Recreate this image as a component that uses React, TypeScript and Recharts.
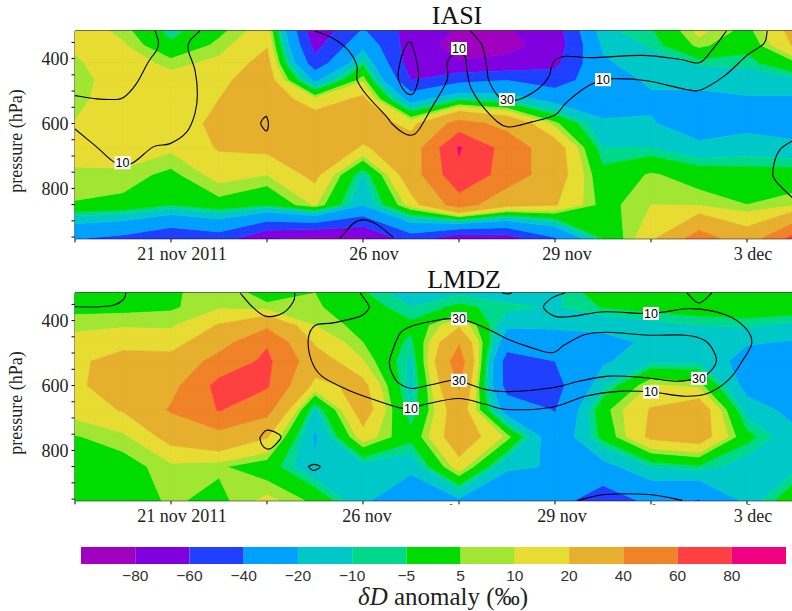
import React from 'react';
import { ScatterChart, Scatter, XAxis, YAxis, ReferenceLine, BarChart, Bar } from 'recharts';

// ---- shared scales -------------------------------------------------------
const pressureLevels = [315, 359, 415, 467, 525, 600, 675, 758, 850, 954];
const pressureTicks = [350, 400, 450, 500, 550, 600, 650, 700, 750, 800, 850, 900, 950];
const pressureLabels = [400, 600, 800];
const timeTicks = [0, 2, 4, 6, 8, 10, 12, 14];
const timeLabels: Record<number, string> = { 2: '21 nov 2011', 6: '26 nov', 10: '29 nov', 14: '3 dec' };
const thresholds = [-80, -60, -40, -20, -10, -5, 5, 10, 20, 40, 60, 80];
const thresholdLabels = ['\u221280', '\u221260', '\u221240', '\u221220', '\u221210', '\u22125', '5', '10', '20', '40', '60', '80'];
const bandColors = ['#a000c0', '#8000e0', '#2040ff', '#00a0ff', '#00c8c8', '#00d88c', '#00dc00', '#a0e632', '#e6dc32', '#e6af2d', '#f08228', '#ff4040', '#f00082'];

// ---- anomaly fields: one row per time step, one value per pressure level --
const iasiField = [
  [15, 11, 9, 7.2, 7.8, 10.3, 15, 8, 4.5, -39],
  [8, 11, 14, 14, 15, 17, 16, 8, 3, -45],
  [-8, -3, 8, 13, 15, 17, 11.5, 3, -4.5, -57],
  [3, 7, 12, 17, 20, 21.5, 21, 13, 2, -50],
  [15, 19, 25, 28, 30, 32, 23, 10, -3.5, -78],
  [-75, -67, -52, -23, 12, 30, 33, 23.5, 11, -85],
  [-38, -25, -7, 9, 23, 28, 18.5, -11, -19, -82],
  [-68, -70, -70, -60, -27, 16, 28, 30, 14, -50],
  [-82, -87, -78, -45, -8, 48, 82, 75, 50, -75],
  [-82, -85, -75, -40, -12, 34, 52, 52, 25, -70],
  [-70, -72, -65, -50, -26, 7, 28, 28, 21, -42],
  [-12, -18, -22, -27, -28, -18, -10, -2, 2, -4],
  [-6, -9, -14, -18, -22, -19, -10, 6, 10, 17],
  [12, 7, -9, -16, -24, -27, -17, 1, 9, 50],
  [2, -2, -8, -16, -21, -24, -14, -1, 5, 28],
  [25, 22, 3, -12, -22, -28, -16, -1, 9, 68],
];
const lmdzField = [
  [0, 3, 8, 13, 18, 18, 13, 4.5, 0, 0],
  [2, 3, 9, 17, 24, 26, 21, 8, 2, 1],
  [4, 4, 9, 14, 26, 34, 42, 25, 8, 6],
  [8, 9, 21, 32, 47, 66, 61, 33, 6, 3],
  [3, 6, 36, 58, 64, 62, 47, 21, 0, 12],
  [5, 6, 10, 18, 28, 16, -12, -22, -18, 3],
  [-4, 0, 2, 5, 10.5, 24, 28, 15, -14, -18],
  [-15, -10, -3, -7, -12, -14, -10, -2, -17, -30],
  [-11, -3, 18, 38, 52, 42, 30, 30, 15, -22],
  [-15, -8, -18, -30, -50, -48, -28, 8, -18, -33],
  [-12, -11, -17, -30, -40, -47, -41, -32, -21, -32],
  [0, -4.5, -17, -24, -22, -12, 2, -2, -25, -52],
  [3, -2, -13, -18, -12, 11, 21, 23, -10, -35],
  [0, 0, -10, -15, -12, 8, 30, 28, -6, -41],
  [0, 1, -9, -19, -25, -25, -14, -2, -15, -16],
  [2, 1, -13, -21, -28, -28, -24, -17, -12, 3],
];

// ---- black contour lines as [time step, pressure] -------------------------
const iasiContours: number[][][] = [
  [[0, 514], [0.45, 524], [0.8, 526], [1.01, 520], [1.28, 477], [1.53, 410], [1.7, 374], [1.74, 349], [1.67, 315]],
  [[0, 617], [0.45, 672], [0.83, 720], [1.18, 723], [1.63, 672], [1.98, 662], [2.33, 626], [2.5, 569], [2.55, 508], [2.5, 436], [2.36, 374], [2.4, 344], [2.6, 315]],
  [[3.99, 577], [4.03, 600], [3.99, 623], [3.89, 608], [3.87, 598], [3.92, 585], [3.99, 577]],
  [[5, 315], [5.38, 338], [5.69, 374], [5.87, 421], [5.88, 467], [6.08, 513], [6.49, 579], [6.6, 600], [6.81, 626], [7, 636], [7.16, 620], [7.44, 549], [7.75, 467], [7.75, 415], [7.85, 390], [7.99, 385], [8.13, 395], [8.17, 441], [8.27, 497], [8.62, 569], [9, 610], [9.52, 595], [10, 574], [10.22, 538], [10.56, 497], [10.84, 474], [11.19, 462], [11.95, 469], [12.72, 495], [13.06, 495], [13.55, 451], [14, 390], [14.35, 354], [14.42, 315]],
  [[8.24, 315], [8.48, 359], [8.58, 426], [8.62, 467], [8.83, 518], [9, 526], [9.25, 526], [9.66, 492], [9.87, 456], [9.97, 410], [10.22, 393], [10.77, 397], [11.81, 390], [12.58, 402], [13, 413], [13.27, 374], [13.57, 315]],
  [[7, 349], [7.09, 390], [7.16, 451], [7.09, 497], [7, 511], [6.85, 497], [6.73, 456], [6.81, 390], [6.92, 354], [7, 349]],
  [[15, 649], [14.68, 682], [14.54, 744], [14.61, 779], [15, 836]],
  [[5.52, 954], [5.8, 908], [6.01, 897], [6.28, 910], [6.63, 951]],
];
const lmdzContours: number[][][] = [
  [[0, 357], [0.45, 358], [0.8, 353], [1.01, 335], [1.06, 315]],
  [[3.44, 315], [3.72, 361], [3.99, 387], [4.34, 376], [4.55, 341], [4.58, 315]],
  [[5.94, 315], [6.11, 351], [6.11, 366], [5.94, 387], [5.38, 407], [5, 415], [4.86, 458], [4.93, 525], [5.14, 571], [5.66, 612], [6.22, 643], [6.77, 669], [7, 671], [7.3, 658], [7.99, 640], [8.55, 658], [9, 674], [9.94, 667], [10.63, 633], [11.33, 618], [12, 620], [12.72, 633], [13.2, 623], [13.62, 582], [13.9, 525], [14.1, 469], [13.97, 423], [13.55, 382], [12.85, 363], [12, 378], [11.05, 373], [10.35, 387], [10, 387], [9.76, 359], [9.94, 330], [10.21, 315]],
  [[13, 578], [13.13, 571], [13.34, 535], [13.34, 505], [13.13, 462], [12.72, 445], [11.95, 445], [11.12, 436], [10.63, 443], [10.21, 474], [9.94, 499], [9.52, 484], [9.03, 458], [8.55, 423], [7.99, 394], [7.44, 402], [7.02, 417], [6.78, 438], [6.6, 499], [6.55, 530], [6.6, 561], [6.74, 592], [7.02, 609], [7.37, 599], [7.85, 584], [7.99, 584], [8.55, 612], [9.03, 619], [9.94, 607], [10.5, 587], [11.12, 571], [11.88, 576], [12.51, 587], [13, 578]],
  [[3.85, 761], [3.99, 738], [4.2, 746], [4.29, 761], [4.1, 792], [3.99, 795], [3.89, 782], [3.85, 761]],
  [[4.86, 850], [4.97, 843], [5.11, 850], [4.97, 862], [4.86, 850]],
  [[12.75, 315], [13, 346], [13.27, 315]],
  [[10.49, 954], [11.05, 936], [11.95, 936], [12.65, 954]],
  [[8.9, 315], [9.02, 318], [9.1, 315]],
];
const iasiLabels = [
  { t: 0.99, p: 721, text: '10' },
  { t: 8, p: 369, text: '10' },
  { t: 11, p: 465, text: '10' },
  { t: 9, p: 526, text: '30' },
];
const lmdzLabels = [
  { t: 7, p: 671, text: '10' },
  { t: 12, p: 620, text: '10' },
  { t: 12, p: 378, text: '10' },
  { t: 8, p: 394, text: '30' },
  { t: 8, p: 584, text: '30' },
  { t: 13, p: 578, text: '30' },
];

// ---- filled bands: each grid cell clipped to each colour interval ---------
type V = { t: number; p: number; v: number };
function clip(poly: V[], level: number, above: boolean): V[] {
  const out: V[] = [];
  const inside = (q: V) => (above ? q.v >= level : q.v <= level);
  for (let k = 0; k < poly.length; k++) {
    const a = poly[k];
    const b = poly[(k + 1) % poly.length];
    if (inside(a)) out.push(a);
    if (inside(a) !== inside(b)) {
      const f = (level - a.v) / (b.v - a.v);
      out.push({ t: a.t + f * (b.t - a.t), p: a.p + f * (b.p - a.p), v: level });
    }
  }
  return out;
}
function bandSeries(field: number[][]) {
  return bandColors.map((color, band) => {
    const lo = band === 0 ? -Infinity : thresholds[band - 1];
    const hi = band === thresholds.length ? Infinity : thresholds[band];
    const data: { t: number; p: number }[] = [];
    const sizes: number[] = [];
    for (let c = 0; c < field.length - 1; c++) {
      for (let r = 0; r < pressureLevels.length - 1; r++) {
        let poly: V[] = [
          { t: c, p: pressureLevels[r], v: field[c][r] },
          { t: c + 1, p: pressureLevels[r], v: field[c + 1][r] },
          { t: c + 1, p: pressureLevels[r + 1], v: field[c + 1][r + 1] },
          { t: c, p: pressureLevels[r + 1], v: field[c][r + 1] },
        ];
        poly = clip(poly, lo, true);
        if (poly.length) poly = clip(poly, hi, false);
        if (poly.length >= 3) {
          sizes.push(poly.length);
          poly.forEach((q) => data.push({ t: q.t, p: q.p }));
        }
      }
    }
    return { color, data, sizes };
  });
}

const NoDot = () => null;

function polygonLine(sizes: number[], color: string) {
  return (props: any) => {
    const pts = props.points as { x: number; y: number }[];
    let d = '';
    let at = 0;
    sizes.forEach((n) => {
      const part = pts.slice(at, at + n);
      at += n;
      d += 'M' + part.map((q) => q.x.toFixed(2) + ',' + q.y.toFixed(2)).join('L') + 'Z';
    });
    return <path d={d} fill={color} stroke={color} strokeWidth={0.6} strokeLinejoin="round" />;
  };
}

function smoothLine(props: any) {
  const pts = props.points as { x: number; y: number }[];
  let d = `M${pts[0].x},${pts[0].y}`;
  for (let k = 0; k < pts.length - 1; k++) {
    const p0 = pts[Math.max(k - 1, 0)];
    const p1 = pts[k];
    const p2 = pts[k + 1];
    const p3 = pts[Math.min(k + 2, pts.length - 1)];
    d += `C${p1.x + (p2.x - p0.x) / 6},${p1.y + (p2.y - p0.y) / 6} ${p2.x - (p3.x - p1.x) / 6},${p2.y - (p3.y - p1.y) / 6} ${p2.x},${p2.y}`;
  }
  return <path d={d} fill="none" stroke="#000" strokeWidth={1.1} />;
}

function ContourLabel(props: any) {
  const { cx, cy, payload } = props;
  return (
    <g>
      <rect x={cx - 8} y={cy - 6.5} width={16} height={13} fill="#fff" />
      <text x={cx} y={cy + 4.5} textAnchor="middle" fontSize={12.5} fontFamily="'Liberation Sans', sans-serif" fill="#000">
        {payload.text}
      </text>
    </g>
  );
}

const serif = "'Liberation Serif', serif";

type PanelProps = {
  top: number;
  field: number[][];
  contours: number[][][];
  labels: { t: number; p: number; text: string }[];
  labelShift: Record<number, number>;
  labelDrop: number;
  marks: Record<number, number>;
  seams: { p: number; color: string }[];
};

function Panel({ top, field, contours, labels, labelShift, labelDrop, marks, seams }: PanelProps) {
  const bands = bandSeries(field);
  const TimeTick = (props: any) => {
    const { x, y, payload } = props;
    const v = payload.value as number;
    return (
      <g>
        {timeLabels[v] ? (
          <text x={x + (labelShift[v] || 0)} y={y + labelDrop} textAnchor="middle" fontSize={18} fontFamily={serif} fill="#222">
            {timeLabels[v]}
          </text>
        ) : null}
        {marks[v] !== undefined ? (
          <text x={x + marks[v]} y={y + 3} textAnchor="middle" fontSize={9} fontFamily={serif} fill="#222">
            -
          </text>
        ) : null}
      </g>
    );
  };
  return (
    <div style={{ position: 'absolute', left: 0, top }}>
      <ScatterChart width={795} height={270} margin={{ top: 31, right: 0, bottom: 0, left: 0 }}>
        <XAxis
          type="number"
          dataKey="t"
          domain={[0, 15]}
          ticks={timeTicks}
          interval={0}
          height={31.6}
          tickSize={4}
          tickMargin={0}
          tick={TimeTick}
          axisLine={{ stroke: '#000', strokeWidth: 1.5 }}
          tickLine={{ stroke: '#000', strokeWidth: 1 }}
        />
        <YAxis
          type="number"
          dataKey="p"
          reversed
          domain={[315, 954]}
          ticks={pressureTicks}
          interval={0}
          width={75}
          tickSize={3.5}
          tickMargin={3}
          tickFormatter={(v: number) => (pressureLabels.includes(v) ? String(v) : '')}
          tick={{ fontSize: 18, fontFamily: serif, fill: '#222' }}
          axisLine={{ stroke: '#000', strokeWidth: 1 }}
          tickLine={{ stroke: '#000', strokeWidth: 1 }}
        />
        {bands.map((b) => (
          <Scatter
            key={b.color}
            data={b.data}
            shape={NoDot}
            line={polygonLine(b.sizes, b.color)}
            isAnimationActive={false}
          />
        ))}
        {seams.map((s) => (
          <ReferenceLine key={s.p} y={s.p} stroke={s.color} strokeWidth={0.8} strokeOpacity={0.8} />
        ))}
        <ReferenceLine y={315} stroke="#000" strokeWidth={1.5} />
        {contours.map((c, k) => (
          <Scatter
            key={'c' + k}
            data={c.map(([t, p]) => ({ t, p }))}
            shape={NoDot}
            line={smoothLine}
            isAnimationActive={false}
          />
        ))}
        <Scatter data={labels} shape={ContourLabel} isAnimationActive={false} />
        <text
          x={18}
          y={141}
          transform="rotate(-90 18 141)"
          dominantBaseline="middle"
          textAnchor="middle"
          fontSize={18}
          fontFamily={serif}
          fill="#222"
        >
          pressure (hPa)
        </text>
      </ScatterChart>
    </div>
  );
}

const colorRow = [Object.fromEntries(bandColors.map((_, k) => ['s' + k, 1]))];

function ColorBar() {
  return (
    <div style={{ position: 'absolute', left: 81, top: 547 }}>
      <BarChart
        width={705}
        height={40}
        layout="vertical"
        data={colorRow}
        margin={{ top: 0, right: 0, bottom: 0, left: 0 }}
        barCategoryGap={0}
        barGap={0}
      >
        <XAxis
          type="number"
          domain={[0, bandColors.length]}
          ticks={thresholds.map((_, k) => k + 1)}
          interval={0}
          height={23}
          axisLine={false}
          tickLine={false}
          tickMargin={0}
          tickFormatter={(v: number) => thresholdLabels[v - 1]}
          tick={{ fontSize: 15.5, fontFamily: "'Liberation Sans', sans-serif", fill: '#333' }}
        />
        <YAxis type="category" hide />
        {bandColors.map((c, k) => (
          <Bar key={c} dataKey={'s' + k} stackId="bar" fill={c} isAnimationActive={false} />
        ))}
      </BarChart>
    </div>
  );
}

const titleStyle: React.CSSProperties = {
  position: 'absolute',
  fontFamily: serif,
  fontSize: 26,
  lineHeight: '30px',
  color: '#111',
  transform: 'translateX(-50%)',
  whiteSpace: 'nowrap',
};

export default function App() {
  return (
    <div style={{ position: 'absolute', left: 0, top: 0, width: 792, height: 611, overflow: 'hidden', background: '#fff' }}>
      <Panel
        top={0}
        field={iasiField}
        contours={iasiContours}
        labels={iasiLabels}
        labelShift={{ 2: 11, 6: 11, 10: 12, 14: 6 }}
        labelDrop={18}
        marks={{}}
        seams={[{ p: 467, color: '#40b4b4' }, { p: 675, color: '#b0e040' }]}
      />
      <Panel
        top={262}
        field={lmdzField}
        contours={lmdzContours}
        labels={lmdzLabels}
        labelShift={{ 2: 11, 6: 4, 10: 7, 14: 6 }}
        labelDrop={18}
        marks={{ 8: -8, 12: 3, 14: 2 }}
        seams={[{ p: 467, color: '#a8e040' }]}
      />
      <ColorBar />
      <div style={{ ...titleStyle, left: 457, top: 1 }}>IASI</div>
      <div style={{ ...titleStyle, left: 464, top: 265 }}>LMDZ</div>
      <div
        style={{
          position: 'absolute',
          left: 443,
          top: 583,
          transform: 'translateX(-50%)',
          fontFamily: serif,
          fontSize: 25,
          lineHeight: '28px',
          color: '#222',
          whiteSpace: 'nowrap',
        }}
      >
        <i>{'\u03b4D'}</i> anomaly ({'\u2030'})
      </div>
    </div>
  );
}
